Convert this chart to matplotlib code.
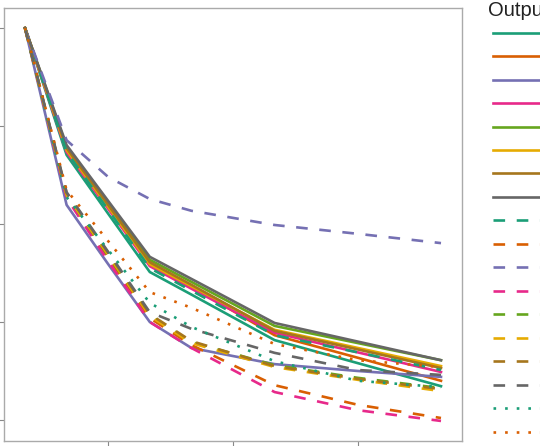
import matplotlib
matplotlib.use("Agg")
import matplotlib.pyplot as plt

plt.rcParams['font.family'] = ['Liberation Sans', 'DejaVu Sans']

# x positions of the evaluation points
steps = [1, 2, 3, 4, 5, 7, 9, 11]

# Dark2 palette, one colour per output
colours = ['#1b9e77', '#d95f02', '#7570b3', '#e7298a',
           '#66a61e', '#e6ab02', '#a6761d', '#666666']

# values (normalised, all start at 1)
solid_vals = [
    [1.0, 0.741, 0.621, 0.502, 0.456, 0.363, 0.316, 0.269],
    [1.0, 0.751, 0.637, 0.522, 0.472, 0.373, 0.327, 0.280],
    [1.0, 0.639, 0.518, 0.400, 0.347, 0.314, 0.300, 0.288],
    [1.0, 0.747, 0.631, 0.514, 0.468, 0.378, 0.338, 0.298],
    [1.0, 0.757, 0.642, 0.527, 0.482, 0.392, 0.357, 0.322],
    [1.0, 0.751, 0.635, 0.518, 0.473, 0.384, 0.347, 0.310],
    [1.0, 0.755, 0.639, 0.522, 0.476, 0.382, 0.344, 0.306],
    [1.0, 0.761, 0.647, 0.533, 0.488, 0.398, 0.360, 0.322],
]
dashed_vals = [
    [1.0, 0.747, 0.629, 0.510, 0.464, 0.373, 0.338, 0.302],
    [1.0, 0.659, 0.531, 0.408, 0.353, 0.271, 0.231, 0.204],
    [1.0, 0.771, 0.696, 0.651, 0.627, 0.598, 0.580, 0.561],
    [1.0, 0.653, 0.524, 0.400, 0.347, 0.257, 0.220, 0.198],
    [1.0, 0.659, 0.535, 0.414, 0.359, 0.312, 0.286, 0.265],
    [1.0, 0.659, 0.537, 0.412, 0.357, 0.308, 0.282, 0.259],
    [1.0, 0.663, 0.541, 0.416, 0.361, 0.310, 0.284, 0.263],
    [1.0, 0.665, 0.543, 0.420, 0.386, 0.337, 0.302, 0.292],
]
dotted_vals = [
    [1.0, 0.655, 0.547, 0.439, 0.390, 0.320, 0.280, 0.267],
    [1.0, 0.669, 0.565, 0.461, 0.429, 0.355, 0.322, 0.308],
]

xticks = [3, 6, 9]
yticks = [0.2, 0.4, 0.6, 0.8, 1.0]

fig = plt.figure(figsize=(5.4, 4.46), dpi=100)
ax = fig.add_axes([4.2 / 540, 5.4 / 446, 457.6 / 540, 432.2 / 446])

lw = 1.9
dash = (0, (4.4, 4.4))
dot = (0, (1, 3.4))
handles = []
for i, v in enumerate(solid_vals):
    handles += ax.plot(steps, v, color=colours[i], lw=lw, ls='-')
for i, v in enumerate(dashed_vals):
    handles += ax.plot(steps, v, color=colours[i], lw=lw, ls=dash)
for i, v in enumerate(dotted_vals):
    handles += ax.plot(steps, v, color=colours[i], lw=lw, ls=dot)

ax.set_xticks(xticks)
ax.set_yticks(yticks)
ax.set_xticklabels([])
ax.set_yticklabels([])
for s in ax.spines.values():
    s.set_color('#aaaaaa')
    s.set_linewidth(1.0)
ax.tick_params(colors='#888888', length=3.5)

# legend: only the line keys fit on the canvas
leg = ax.legend(handles, [''] * len(handles), loc='upper left',
                bbox_to_anchor=(493 / 540, 1 - 27 / 446), bbox_transform=fig.transFigure,
                frameon=False, fontsize=11, handlelength=4.2,
                labelspacing=0.62, borderaxespad=0, borderpad=0)
fig.text(488 / 540, 1 - 11 / 446, 'Output', fontsize=14.5, color='#222222',
         ha='left', va='center')

fig.savefig('out.png', dpi=100)
